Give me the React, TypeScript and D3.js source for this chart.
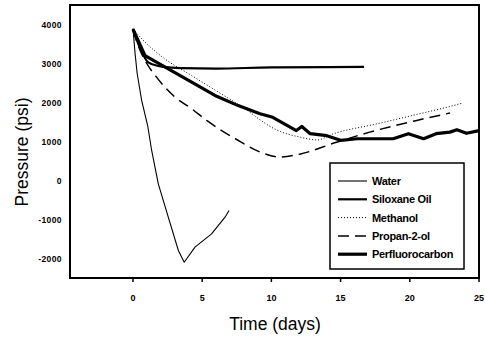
import React, { useRef, useEffect } from "react";
import * as d3 from "d3";

// pressure (psi) against time (days)
const waterDays = [0, 0.14, 0.3, 0.63, 1.06, 1.35, 1.83, 2.55, 3.28, 3.7, 4.48, 5.68, 6.65, 6.94];
const waterPsi = [3900, 3300, 2750, 2050, 1410, 770, -85, -940, -1795, -2095, -1710, -1370, -940, -770];

const siloxaneDays = [0, 0.5, 1.1, 1.8, 3.5, 6, 10, 14, 16.7];
const siloxanePsi = [3880, 3400, 3030, 2940, 2880, 2870, 2900, 2905, 2915];

const methanolDays = [0, 0.87, 2.3, 4.24, 6.2, 8.45, 9.2, 10.3, 12.1, 13.3, 14.5, 17.6, 20.7, 22.7, 23.75];
const methanolPsi = [3880, 3550, 3120, 2690, 2260, 1750, 1550, 1310, 1110, 1040, 1200, 1450, 1710, 1880, 1980];

const propanolDays = [0, 0.5, 1.0, 1.7, 3.0, 4.2, 5.4, 7.4, 9.18, 10.6, 12.1, 14.7, 17.1, 20.5, 22.9];
const propanolPsi = [3850, 3350, 3000, 2650, 2150, 1850, 1520, 1070, 730, 600, 680, 980, 1240, 1540, 1730];

const perfluoroDays = [0, 0.87, 2.55, 4.24, 5.92, 7.6, 9.18, 10.1, 11.8, 12.2, 12.8, 14, 15, 16.2, 18.8, 19.9, 21, 21.9, 22.9, 23.4, 24.1, 25];
const perfluoroPsi = [3880, 3200, 2860, 2520, 2180, 1920, 1710, 1620, 1280, 1385, 1200, 1150, 1030, 1070, 1070, 1200, 1070, 1200, 1240, 1300, 1210, 1280];

const xTicks = [0, 5, 10, 15, 20, 25];
const yTicks = [-2000, -1000, 0, 1000, 2000, 3000, 4000];

const seriesNames = ["Water", "Siloxane Oil", "Methanol", "Propan-2-ol", "Perfluorocarbon"];

export default function App() {
  const svgRef = useRef<SVGSVGElement>(null);

  useEffect(() => {
    const svg = d3.select(svgRef.current);
    svg.selectAll("*").remove();

    const left = 70, right = 479, top = 5, bottom = 278;
    const x = d3.scaleLinear().domain([-4.55, 25]).range([left, right]);
    const y = d3.scaleLinear().domain([-2500, 4500]).range([bottom, top]);

    const styles = [
      { width: 1.1, dash: null, curve: d3.curveLinear },
      { width: 2.2, dash: null, curve: d3.curveMonotoneX },
      { width: 1, dash: "1,2", curve: d3.curveMonotoneX },
      { width: 1.5, dash: "11,6", curve: d3.curveMonotoneX },
      { width: 3.2, dash: null, curve: d3.curveLinear },
    ];
    const series = [
      [waterDays, waterPsi],
      [siloxaneDays, siloxanePsi],
      [methanolDays, methanolPsi],
      [propanolDays, propanolPsi],
      [perfluoroDays, perfluoroPsi],
    ];

    const line = d3
      .line<[number, number]>()
      .x((d) => x(d[0]))
      .y((d) => y(d[1]));

    series.forEach(([days, psi], i) => {
      const pts = days.map((d, j) => [d, psi[j]] as [number, number]);
      svg
        .append("path")
        .attr("d", line.curve(styles[i].curve)(pts))
        .attr("fill", "none")
        .attr("stroke", "#000")
        .attr("stroke-width", styles[i].width)
        .attr("stroke-linejoin", "round")
        .attr("stroke-dasharray", styles[i].dash);
    });

    // frame
    svg
      .append("rect")
      .attr("x", left)
      .attr("y", top)
      .attr("width", right - left)
      .attr("height", bottom - top)
      .attr("fill", "none")
      .attr("stroke", "#000")
      .attr("stroke-width", 2);

    // x ticks + labels
    xTicks.forEach((t) => {
      svg
        .append("line")
        .attr("x1", x(t))
        .attr("x2", x(t))
        .attr("y1", bottom)
        .attr("y2", bottom + 4)
        .attr("stroke", "#000")
        .attr("stroke-width", 1.5);
      svg
        .append("text")
        .attr("x", x(t))
        .attr("y", bottom + 23)
        .attr("text-anchor", "middle")
        .attr("font-family", "Liberation Sans, Arial, sans-serif")
        .attr("font-weight", "bold")
        .attr("font-size", 9)
        .text(t);
    });

    // y labels
    yTicks.forEach((t) => {
      svg
        .append("text")
        .attr("x", 62)
        .attr("y", y(t) + 3)
        .attr("text-anchor", "end")
        .attr("font-family", "Liberation Sans, Arial, sans-serif")
        .attr("font-weight", "bold")
        .attr("font-size", 8.5)
        .attr("letter-spacing", 0.4)
        .text(t);
    });

    // axis titles
    svg
      .append("text")
      .attr("x", 275)
      .attr("y", 330)
      .attr("text-anchor", "middle")
      .attr("font-family", "Liberation Sans, Arial, sans-serif")
      .attr("font-size", 17.5)
      .text("Time (days)");
    svg
      .append("text")
      .attr("transform", "translate(28,152) rotate(-90)")
      .attr("text-anchor", "middle")
      .attr("font-family", "Liberation Sans, Arial, sans-serif")
      .attr("font-size", 17.5)
      .text("Pressure (psi)");

    // legend
    const legend = svg.append("g");
    legend
      .append("rect")
      .attr("x", 330)
      .attr("y", 163)
      .attr("width", 134)
      .attr("height", 106)
      .attr("fill", "#fff")
      .attr("stroke", "#000")
      .attr("stroke-width", 1.5);
    seriesNames.forEach((name, i) => {
      const ly = 181 + i * 18.3;
      legend
        .append("line")
        .attr("x1", 338)
        .attr("x2", 367)
        .attr("y1", ly)
        .attr("y2", ly)
        .attr("stroke", "#000")
        .attr("stroke-width", styles[i].width)
        .attr("stroke-dasharray", styles[i].dash);
      legend
        .append("text")
        .attr("x", 372)
        .attr("y", ly + 4)
        .attr("font-family", "Liberation Sans, Arial, sans-serif")
        .attr("font-weight", "bold")
        .attr("font-size", 11)
        .attr("letter-spacing", -0.3)
        .text(name);
    });
  }, []);

  return (
    <div style={{ position: "absolute", left: 0, top: 0 }}>
      <svg ref={svgRef} width={485} height={343} style={{ display: "block", background: "#fff" }} />
    </div>
  );
}
